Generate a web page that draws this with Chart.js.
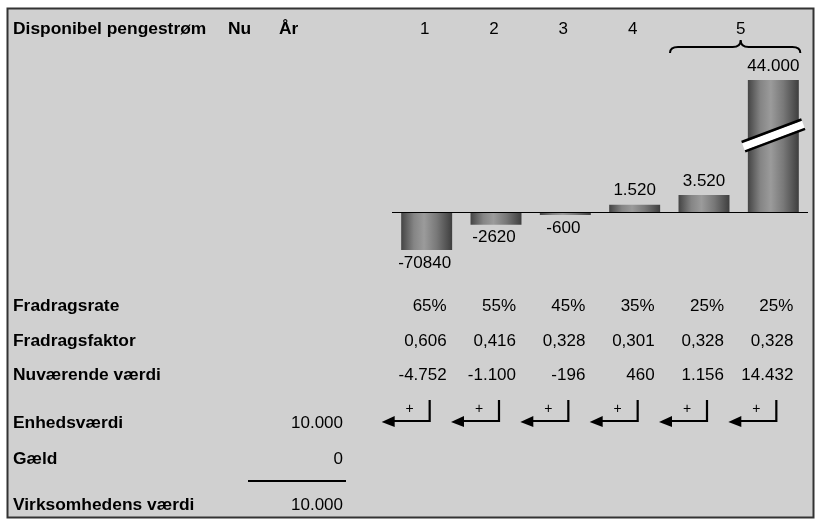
<!DOCTYPE html>
<html>
<head>
<meta charset="utf-8">
<script src="https://cdn.jsdelivr.net/npm/chart.js@4.4.1/dist/chart.umd.min.js"></script>
<style>
  html, body { margin: 0; padding: 0; background: #fff; overflow: hidden; }
  #wrap { width: 815px; height: 525px; position: relative; }
</style>
</head>
<body>
<div id="wrap"><canvas id="grafico"></canvas></div>
<script>
// data
const categorias = ['1', '2', '3', '4', '5', '5'];
const anos = ['1', '2', '3', '4', '5'];
const pengestrom = [-7840, -2620, -600, 1520, 3520, 44000];
const pengestromTekst = ['-70840', '-2620', '-600', '1.520', '3.520', '44.000'];
const fradragsrate = ['65%', '55%', '45%', '35%', '25%', '25%'];
const fradragsfaktor = ['0,606', '0,416', '0,328', '0,301', '0,328', '0,328'];
const nuvaerende = ['-4.752', '-1.100', '-196', '460', '1.156', '14.432'];
const raekker = ['Fradragsrate', 'Fradragsfaktor', 'Nuværende værdi'];
const bund = [
    ['Enhedsværdi', '10.000'],
    ['Gæld', '0'],
    ['Virksomhedens værdi', '10.000']
];

const FONT = '"Liberation Sans", Arial, sans-serif';
const GRA = '#d0d0d0';

function barGradient(context) {
    const chart = context.chart;
    if (!chart.chartArea || !chart.scales.x) return '#777';
    const cx = chart.scales.x.getPixelForValue(context.dataIndex);
    const w = 25.5;
    const g = chart.ctx.createLinearGradient(cx - w, 0, cx + w, 0);
    g.addColorStop(0, '#444444');
    g.addColorStop(0.25, '#858585');
    g.addColorStop(0.45, '#9b9b9b');
    g.addColorStop(0.7, '#787878');
    g.addColorStop(1, '#3e3e3e');
    return g;
}

function txt(ctx, s, x, y, align, bold) {
    ctx.font = (bold ? 'bold 17.4px ' : '17px ') + FONT;
    ctx.textAlign = align;
    ctx.textBaseline = 'middle';
    ctx.fillStyle = '#000';
    ctx.fillText(s, x, y);
}

function pil(ctx, x, y) {
    // x = lodret streg, y = vandret streg
    ctx.save();
    ctx.strokeStyle = '#000';
    ctx.fillStyle = '#000';
    ctx.lineWidth = 2.2;
    ctx.beginPath();
    ctx.moveTo(x, y - 21);
    ctx.lineTo(x, y);
    ctx.lineTo(x - 38, y);
    ctx.stroke();
    ctx.beginPath();
    ctx.moveTo(x - 48, y + 1);
    ctx.lineTo(x - 35, y - 5);
    ctx.lineTo(x - 35, y + 6);
    ctx.closePath();
    ctx.fill();
    ctx.font = '14px ' + FONT;
    ctx.textAlign = 'center';
    ctx.textBaseline = 'middle';
    ctx.fillText('+', x - 20, y - 12);
    ctx.restore();
}

const tavle = {
    id: 'tavle',
    beforeDraw(chart) {
        const ctx = chart.ctx;
        ctx.save();
        ctx.fillStyle = '#fff';
        ctx.fillRect(0, 0, chart.width, chart.height);
        ctx.fillStyle = GRA;
        ctx.fillRect(7, 8, 807, 510);
        ctx.strokeStyle = '#333';
        ctx.lineWidth = 2;
        ctx.strokeRect(7.5, 8.5, 806, 509);
        ctx.restore();
    },
    afterDatasetsDraw(chart) {
        const ctx = chart.ctx;
        const x = chart.scales.x, y = chart.scales.y;
        const area = chart.chartArea;
        const nul = y.getPixelForValue(0);
        ctx.save();

        // nul-linje
        ctx.strokeStyle = '#000';
        ctx.lineWidth = 1;
        ctx.beginPath();
        ctx.moveTo(area.left, Math.round(nul) + 0.5);
        ctx.lineTo(area.right, Math.round(nul) + 0.5);
        ctx.stroke();

        // brud paa sidste soejle
        const bx = x.getPixelForValue(5);
        const by = area.top + (nul - area.top) * 0.42;
        ctx.save();
        ctx.translate(bx, by);
        ctx.rotate(-0.36);
        ctx.fillStyle = '#fff';
        ctx.fillRect(-32, -4, 64, 8);
        ctx.strokeStyle = '#000';
        ctx.lineWidth = 2.5;
        ctx.beginPath();
        ctx.moveTo(-32, -5); ctx.lineTo(32, -5);
        ctx.moveTo(-32, 5); ctx.lineTo(32, 5);
        ctx.stroke();
        ctx.restore();

        // overskrift
        txt(ctx, 'Disponibel pengestrøm', 13, 29, 'left', true);
        txt(ctx, 'Nu', 228, 29, 'left', true);
        txt(ctx, 'År', 279, 29, 'left', true);
        for (let i = 0; i < 4; i++) {
            txt(ctx, anos[i], x.getPixelForValue(i) - 2, 29, 'center', false);
        }
        const x5 = (x.getPixelForValue(4) + x.getPixelForValue(5)) / 2;
        txt(ctx, anos[4], x5 + 2, 29, 'center', false);

        // klamme
        const l = x.getPixelForValue(4) - 34, r = x.getPixelForValue(5) + 27;
        ctx.strokeStyle = '#000';
        ctx.lineWidth = 2;
        ctx.beginPath();
        ctx.moveTo(l, 53);
        ctx.quadraticCurveTo(l, 47, l + 8, 47);
        ctx.lineTo(x5 + 2 - 8, 47);
        ctx.quadraticCurveTo(x5 + 2, 47, x5 + 2, 40);
        ctx.quadraticCurveTo(x5 + 2, 47, x5 + 2 + 8, 47);
        ctx.lineTo(r - 8, 47);
        ctx.quadraticCurveTo(r, 47, r, 53);
        ctx.stroke();

        // soejletekster
        pengestrom.forEach((v, i) => {
            const cx = x.getPixelForValue(i);
            let py = Math.max(y.getPixelForValue(v), area.top);
            if (v < 0) txt(ctx, pengestromTekst[i], cx - 2, py + 13, 'center', false);
            else txt(ctx, pengestromTekst[i], cx, py - 14, 'center', false);
        });

        // raekker
        const ry = [306, 341, 375];
        const kol = [fradragsrate, fradragsfaktor, nuvaerende];
        raekker.forEach((navn, k) => {
            txt(ctx, navn, 13, ry[k], 'left', true);
            kol[k].forEach((s, i) => {
                txt(ctx, s, x.getPixelForValue(i) + 20, ry[k], 'right', false);
            });
        });

        // pile
        for (let i = 0; i < pengestrom.length; i++) {
            pil(ctx, x.getPixelForValue(i) + 3, 421);
        }

        // bund
        const by2 = [423, 459, 505];
        bund.forEach((b, k) => {
            txt(ctx, b[0], 13, by2[k], 'left', true);
            txt(ctx, b[1], 343, by2[k], 'right', false);
        });
        ctx.strokeStyle = '#000';
        ctx.lineWidth = 2;
        ctx.beginPath();
        ctx.moveTo(248, 481);
        ctx.lineTo(346, 481);
        ctx.stroke();

        ctx.restore();
    }
};

new Chart(document.getElementById('grafico'), {
    type: 'bar',
    data: {
        labels: categorias,
        datasets: [{
            data: pengestrom,
            backgroundColor: barGradient,
            borderWidth: 0,
            categoryPercentage: 1,
            barPercentage: 0.735,
            clip: 0
        }]
    },
    options: {
        responsive: true,
        maintainAspectRatio: false,
        animation: false,
        layout: { padding: { left: 392, right: 7, top: 80, bottom: 275 } },
        plugins: {
            legend: { display: false },
            tooltip: { enabled: false },
            title: { display: false }
        },
        scales: {
            x: { display: false },
            y: { display: false, min: -7840, max: 27230 }
        }
    },
    plugins: [tavle]
});
</script>
</body>
</html>
